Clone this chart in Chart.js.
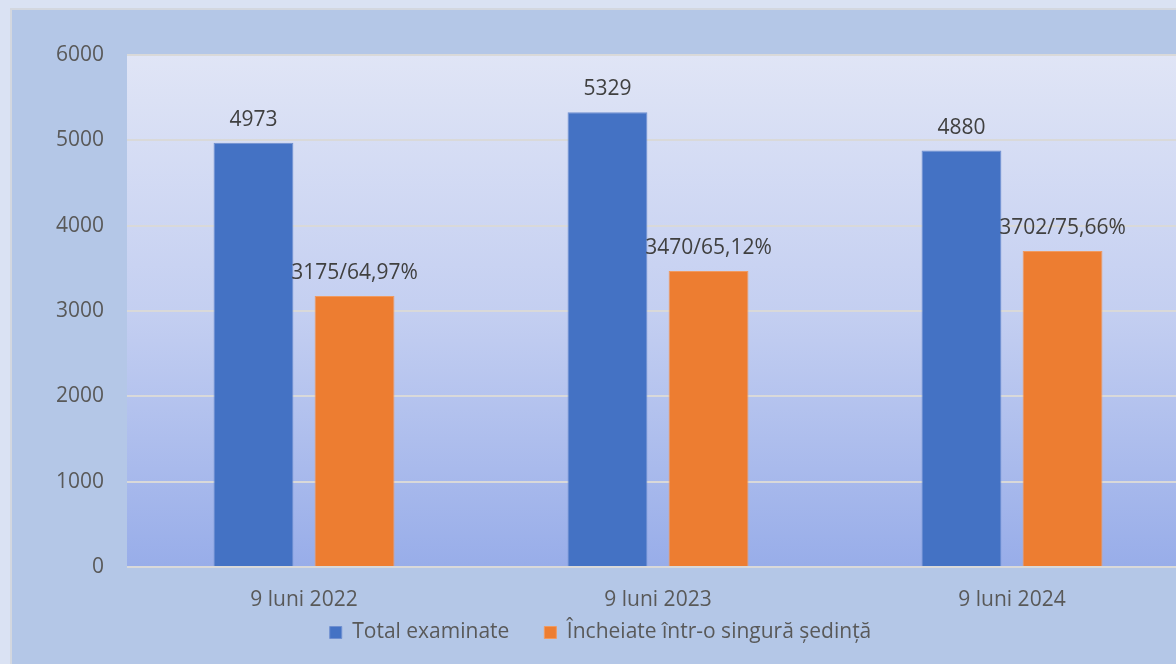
<!DOCTYPE html>
<html>
<head>
<meta charset="utf-8">
<script src="https://cdn.jsdelivr.net/npm/chart.js@4.4.1/dist/chart.umd.min.js"></script>
<style>
    html, body {
        margin: 0;
        padding: 0;
        overflow: hidden;
        background: #dae2f3;
        width: 1176px;
        height: 664px;
    }
    #frame {
        position: absolute;
        left: 10px;
        top: 8px;
        width: 1200px;
        height: 720px;
        background: #b4c7e7;
        border: 2px solid #d3d7df;
    }
    #chart {
        position: absolute;
        left: 0;
        top: 0;
    }
</style>
</head>
<body>
<div id="frame">
    <canvas id="chart" width="1180" height="671"></canvas>
</div>
<script>
// --- Chart data ---
const categories = ['9 luni 2022', '9 luni 2023', '9 luni 2024'];
const totalExaminate = [4973, 5329, 4880];
const incheiate = [3175, 3470, 3702];
const totalLabels = ['4973', '5329', '4880'];
const incheiateLabels = ['3175/64,97%', '3470/65,12%', '3702/75,66%'];
const yTicks = [0, 1000, 2000, 3000, 4000, 5000, 6000];

const FONT = "'Open Sans', sans-serif";

// plot area gradient background (light at top, bluish at bottom)
const plotBackground = {
    id: 'plotBackground',
    beforeDraw(chart) {
        const { ctx, chartArea } = chart;
        const grad = ctx.createLinearGradient(0, chartArea.top, 0, chartArea.bottom);
        grad.addColorStop(0, '#e0e5f6');
        grad.addColorStop(0.5, '#c4cff1');
        grad.addColorStop(1, '#98ade9');
        ctx.save();
        ctx.fillStyle = grad;
        ctx.fillRect(chartArea.left, chartArea.top, chartArea.right - chartArea.left, chartArea.bottom - chartArea.top);
        ctx.restore();
    }
};

// big legend padding gives the wide item gap; pull the legend back up under the axis
const legendShift = {
    id: 'legendShift',
    afterLayout(chart) {
        chart.legend.top -= 28;
        chart.legend.bottom -= 28;
    }
};

// value labels above each bar
const barLabels = {
    id: 'barLabels',
    afterDatasetsDraw(chart) {
        const ctx = chart.ctx;
        ctx.save();
        ctx.font = '21px ' + FONT;
        ctx.fillStyle = '#404040';
        ctx.textAlign = 'center';
        ctx.textBaseline = 'alphabetic';
        chart.data.datasets.forEach((ds, i) => {
            const meta = chart.getDatasetMeta(i);
            meta.data.forEach((bar, j) => {
                ctx.fillText(ds.valueLabels[j], bar.x, bar.y - 17);
            });
        });
        ctx.restore();
    }
};

new Chart(document.getElementById('chart'), {
    type: 'bar',
    data: {
        labels: categories,
        datasets: [
            {
                label: 'Total examinate',
                data: totalExaminate,
                valueLabels: totalLabels,
                backgroundColor: '#4472c4',
                borderColor: '#6f8fd0',
                borderWidth: 1
            },
            {
                label: 'Încheiate într-o singură ședință',
                data: incheiate,
                valueLabels: incheiateLabels,
                backgroundColor: '#ed7d31',
                borderColor: '#f09a60',
                borderWidth: 1
            }
        ]
    },
    options: {
        responsive: false,
        animation: false,
        devicePixelRatio: 1,
        categoryPercentage: 0.571,
        barPercentage: 0.79,
        layout: {
            padding: { top: 45, right: 3, bottom: 0, left: 0 }
        },
        scales: {
            x: {
                grid: { display: false },
                border: { display: false },
                ticks: {
                    color: '#595959',
                    font: { family: FONT, size: 21 },
                    padding: 12
                },
                afterFit(scale) { scale.height = 48; }
            },
            y: {
                min: 0,
                max: 6000,
                afterBuildTicks(scale) {
                    scale.ticks = yTicks.map(v => ({ value: v }));
                },
                grid: {
                    color: '#d9d9d9',
                    lineWidth: 2,
                    drawTicks: false
                },
                border: { display: false },
                ticks: {
                    color: '#595959',
                    font: { family: FONT, size: 21 },
                    padding: 23,
                    callback: (value) => String(value)
                },
                afterFit(scale) { scale.width = 115; }
            }
        },
        plugins: {
            legend: {
                position: 'bottom',
                labels: {
                    color: '#595959',
                    font: { family: FONT, size: 21 },
                    boxWidth: 12,
                    boxHeight: 12,
                    padding: 35
                }
            },
            tooltip: { enabled: false }
        }
    },
    plugins: [plotBackground, legendShift, barLabels]
});
</script>
</body>
</html>
